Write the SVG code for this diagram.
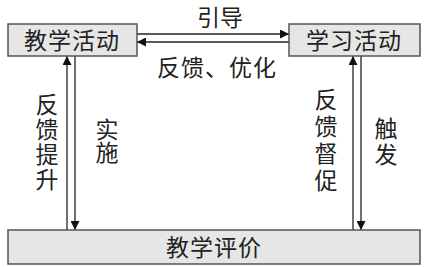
<svg xmlns="http://www.w3.org/2000/svg" width="426" height="267" viewBox="0 0 426 267">
<defs>
<style>
.box{fill:#e6e6e6;stroke:#555;stroke-width:1.5}
.t{font-family:"Noto Sans CJK SC","Noto Sans",sans-serif;font-size:23px;fill:#222;text-anchor:middle}
.v{font-family:"Noto Sans CJK SC","Noto Sans",sans-serif;font-size:23px;fill:#222;writing-mode:vertical-rl;text-anchor:start}
.ln{stroke:#222;stroke-width:1.3;fill:none}
</style>
<marker id="ah" viewBox="0 0 10 10" refX="10" refY="5" markerWidth="9" markerHeight="9" markerUnits="userSpaceOnUse" orient="auto">
<path d="M0,0 L10,5 L0,10 z" fill="#111"/>
</marker>
</defs>
<rect width="426" height="267" fill="#fff"/>
<g id="connectors">
<line class="ln" x1="137" y1="34" x2="289" y2="34" marker-end="url(#ah)"/>
<line class="ln" x1="289" y1="42" x2="137" y2="42" marker-end="url(#ah)"/>
<line class="ln" x1="67" y1="230" x2="67" y2="56" marker-end="url(#ah)"/>
<line class="ln" x1="75" y1="56" x2="75" y2="230" marker-end="url(#ah)"/>
<line class="ln" x1="353" y1="230" x2="353" y2="56" marker-end="url(#ah)"/>
<line class="ln" x1="361" y1="56" x2="361" y2="230" marker-end="url(#ah)"/>
<text class="t" x="220" y="26">引导</text>
<text class="t" x="217" y="76" letter-spacing="1">反馈、优化</text>
<text class="v" x="47" y="93" letter-spacing="2">反馈提升</text>
<text class="v" x="107" y="118">实施</text>
<text class="v" x="326" y="88" letter-spacing="4">反馈督促</text>
<text class="v" x="386" y="117" letter-spacing="3">触发</text>
</g>
<g id="teaching">
<rect class="box" x="8" y="24" width="129" height="32"/>
<text class="t" x="72" y="49" letter-spacing="1">教学活动</text>
</g>
<g id="learning">
<rect class="box" x="289" y="24" width="131" height="32"/>
<text class="t" x="354" y="49" letter-spacing="1">学习活动</text>
</g>
<g id="evaluation">
<rect class="box" x="8" y="230" width="412" height="34"/>
<text class="t" x="214" y="256" letter-spacing="1">教学评价</text>
</g>
</svg>
